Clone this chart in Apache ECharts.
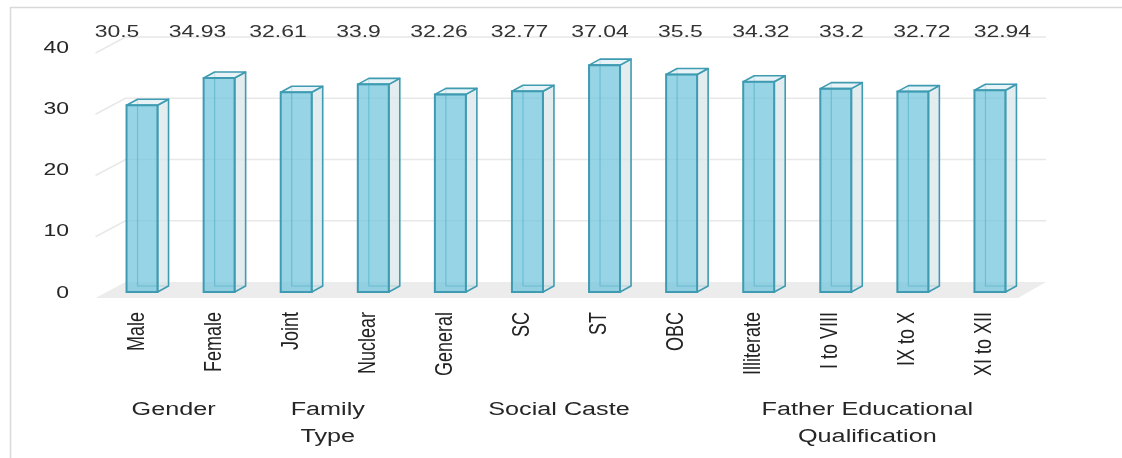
<!DOCTYPE html>
<html>
<head>
<meta charset="utf-8">
<script src="https://cdn.jsdelivr.net/npm/echarts@6/dist/echarts.min.js"></script>
<style>
html,body{margin:0;padding:0;background:#fff;}
#chart{width:1122px;height:458px;}
</style>
</head>
<body>
<div id="chart"></div>
<script>
// ---- data ----
var categories = ['Male','Female','Joint','Nuclear','General','SC','ST','OBC','Illiterate','I to VIII','IX to X','XI to XII'];
var values = [30.5, 34.93, 32.61, 33.9, 32.26, 32.77, 37.04, 35.5, 34.32, 33.2, 32.72, 32.94];
var valueLabels = ['30.5','34.93','32.61','33.9','32.26','32.77','37.04','35.5','34.32','33.2','32.72','32.94'];
var yTicks = [0, 10, 20, 30, 40];
var groupNames = ['Gender', 'Family\nType', 'Social Caste', 'Father Educational\nQualification'];
var groupStart = [0, 2, 4, 8];
var groupEnd = [1, 3, 7, 11];

var FONT = '"Liberation Sans", Arial, sans-serif';
var STROKE = '#3f9bb1';

function renderWalls(params, api) {
  var t = api.value(1);
  var p = api.coord([0, t]);
  var cs = params.coordSys;
  var y = p[1];
  var xl = cs.x;
  var xr = 1046;
  var children = [];
  if (t === 0) {
    children.push({
      type: 'polygon',
      shape: { points: [[xl - 8, y + 6], [1018, y + 6], [xr, y - 10], [xl + 22, y - 10]] },
      style: { fill: '#ececec', stroke: null }
    });
  } else {
    children.push({
      type: 'polyline',
      shape: { points: [[xl - 8, y + 6], [xl + 22, y - 10], [xr, y - 10]] },
      style: { stroke: '#e8e8e8', lineWidth: 1.5, fill: null }
    });
  }
  children.push({
    type: 'text', x: 69, y: y + 1,
    scaleX: 1.35,
    style: { text: String(t), align: 'right', verticalAlign: 'middle', fill: '#262626', font: '17px ' + FONT }
  });
  return { type: 'group', children: children };
}

function renderBar(params, api) {
  var i = api.value(0), v = api.value(1);
  var base = api.coord([i, 0]), top = api.coord([i, v]);
  var hw = 15.5, dx = 11, dy = -6;
  var xl = base[0] - hw, xr = base[0] + hw, yb = base[1], yt = top[1];
  var cs = params.coordSys;
  return {
    type: 'group',
    children: [
      { type: 'polyline',
        shape: { points: [[xl + dx, yt + dy], [xl + dx, yb + dy], [xr + dx, yb + dy]] },
        style: { stroke: STROKE, lineWidth: 1.2, fill: null, opacity: 0.8 } },
      { type: 'polygon',
        shape: { points: [[xr, yt], [xr + dx, yt + dy], [xr + dx, yb + dy], [xr, yb]] },
        style: { fill: 'rgba(215,228,232,0.7)', stroke: STROKE, lineWidth: 1.6, lineJoin: 'round' } },
      { type: 'polygon',
        shape: { points: [[xl, yt], [xl + dx, yt + dy], [xr + dx, yt + dy], [xr, yt]] },
        style: { fill: 'rgba(225,240,245,0.8)', stroke: STROKE, lineWidth: 1.6, lineJoin: 'round' } },
      { type: 'rect',
        shape: { x: xl, y: yt, width: hw * 2, height: yb - yt },
        style: { fill: 'rgba(110,196,220,0.72)', stroke: STROKE, lineWidth: 2 } },
      { type: 'text',
        x: base[0] - 25 + 3.4 * i, y: cs.y - 15,
        scaleX: 1.35,
        style: { text: valueLabels[params.dataIndex], align: 'center', verticalAlign: 'middle', fill: '#333', font: '17px ' + FONT } },
      { type: 'text',
        x: base[0] - 5, y: yb + 20,
        rotation: Math.PI / 2,
        scaleY: 1.3,
        style: { text: categories[params.dataIndex], align: 'right', verticalAlign: 'middle', fill: '#222', font: '18px ' + FONT } }
    ]
  };
}

function renderGroup(params, api) {
  var a = api.coord([api.value(0), 0]);
  var b = api.coord([api.value(1), 0]);
  var cx = (a[0] + b[0]) / 2 - 7;
  return {
    type: 'text', x: cx, y: 397,
    scaleX: 1.4,
    style: { text: groupNames[params.dataIndex], align: 'center', verticalAlign: 'top', lineHeight: 27, fill: '#262626', font: '18px ' + FONT }
  };
}

var chart = echarts.init(document.getElementById('chart'), null, { renderer: 'canvas' });
chart.setOption({
  backgroundColor: '#ffffff',
  animation: false,
  graphic: [{
    type: 'rect', left: 8, top: 5, z: -10,
    shape: { x: 0, y: 0, width: 1130, height: 470 },
    style: { fill: 'none', stroke: '#d9d9d9', lineWidth: 1.5 }
  }],
  grid: { left: 103.5, right: 93.5, top: 47, bottom: 166 },
  xAxis: {
    type: 'category',
    data: categories,
    axisLine: { show: false },
    axisTick: { show: false },
    axisLabel: { show: false }
  },
  yAxis: {
    type: 'value', min: 0, max: 40, interval: 10,
    axisLabel: { show: false },
    axisLine: { show: false },
    axisTick: { show: false },
    splitLine: { show: false }
  },
  series: [
    { type: 'custom', renderItem: renderWalls, z: 1, clip: false,
      data: yTicks.map(function (t) { return [0, t]; }) },
    { type: 'custom', renderItem: renderBar, z: 2, clip: false,
      data: values.map(function (v, i) { return [i, v]; }) },
    { type: 'custom', renderItem: renderGroup, z: 3, clip: false,
      encode: { x: [0, 1] },
      data: groupStart.map(function (s, k) { return [s, groupEnd[k]]; }) }
  ]
});
</script>
</body>
</html>
